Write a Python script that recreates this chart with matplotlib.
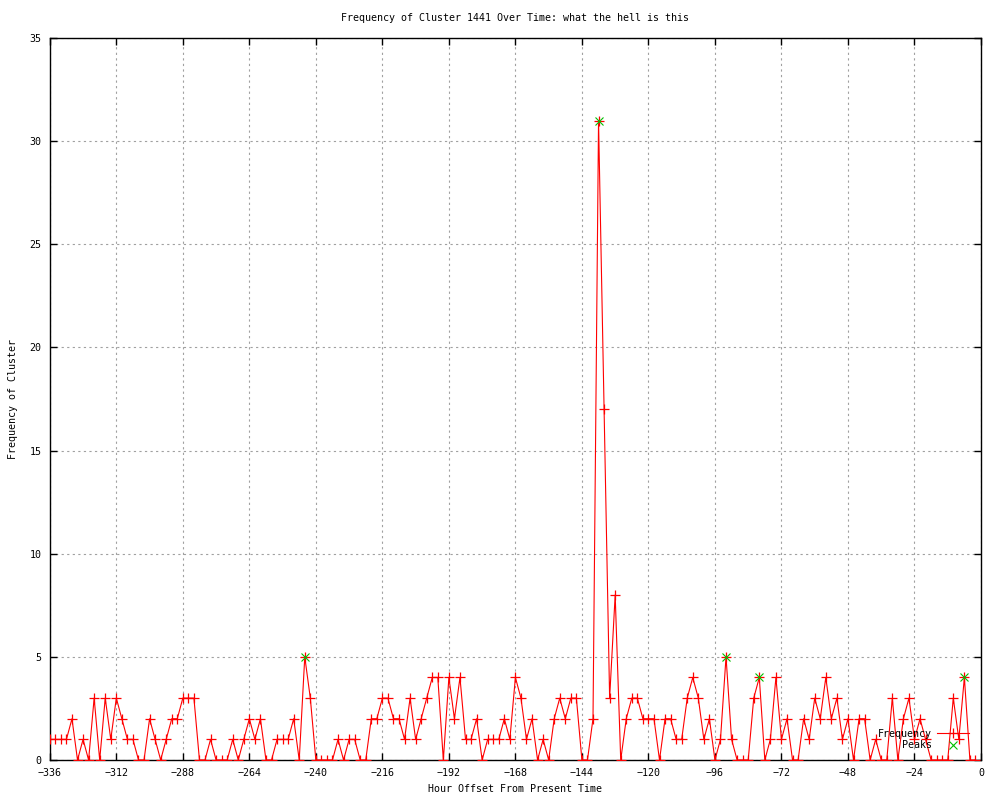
import matplotlib
matplotlib.use('Agg')
import matplotlib.pyplot as plt

# hour offsets, every 2 hours from -336 to -2
hours = list(range(-336, 0, 2))
freq = [1, 1, 1, 1, 2, 0, 1, 0, 3, 0, 3, 1, 3, 2, 1, 1, 0, 0, 2, 1,
        0, 1, 2, 2, 3, 3, 3, 0, 0, 1, 0, 0, 0, 1, 0, 1, 2, 1, 2, 0,
        0, 1, 1, 1, 2, 0, 5, 3, 0, 0, 0, 0, 1, 0, 1, 1, 0, 0, 2, 2,
        3, 3, 2, 2, 1, 3, 1, 2, 3, 4, 4, 0, 4, 2, 4, 1, 1, 2, 0, 1,
        1, 1, 2, 1, 4, 3, 1, 2, 0, 1, 0, 2, 3, 2, 3, 3, 0, 0, 2, 31,
        17, 3, 8, 0, 2, 3, 3, 2, 2, 2, 0, 2, 2, 1, 1, 3, 4, 3, 1, 2,
        0, 1, 5, 1, 0, 0, 0, 3, 4, 0, 1, 4, 1, 2, 0, 0, 2, 1, 3, 2,
        4, 2, 3, 1, 2, 0, 2, 2, 0, 1, 0, 0, 3, 0, 2, 3, 1, 2, 1, 0,
        0, 0, 0, 3, 1, 4, 0, 0]

peak_hours = [-244, -138, -92, -80, -6]
peak_vals = [5, 31, 5, 4, 4]

x_ticks = list(range(-336, 1, 24))
y_ticks = list(range(0, 36, 5))

plt.rcParams['font.family'] = 'DejaVu Sans Mono'
plt.rcParams['font.size'] = 7.2

fig = plt.figure(figsize=(10, 8), dpi=100)
ax = fig.add_axes([0.0498, 0.05, 0.9312, 0.9025])

ax.plot(hours, freq, color='red', linewidth=0.8, marker='+',
        markersize=7, markeredgewidth=0.9, label='Frequency', zorder=3)
ax.plot(peak_hours, peak_vals, linestyle='none', marker='x', color='#00c000',
        markersize=5.5, markeredgewidth=0.8, label='Peaks', zorder=4)

ax.set_xlim(-336, 0)
ax.set_ylim(0, 35)
ax.set_xticks(x_ticks)
ax.set_yticks(y_ticks)
ax.tick_params(direction='in', length=5, width=1, top=True, right=True, pad=6)
ax.grid(True, color='#a0a0a0', linestyle=(0, (2, 3)), linewidth=0.8)
for s in ax.spines.values():
    s.set_linewidth(1)

ax.set_title('Frequency of Cluster 1441 Over Time: what the hell is this',
             fontsize=7.2, pad=12)
ax.set_xlabel('Hour Offset From Present Time', labelpad=4)
ax.set_ylabel('Frequency of Cluster', labelpad=8)

ax.legend(loc='lower right', bbox_to_anchor=(0.991, 0.008), markerfirst=False,
          frameon=False, numpoints=1, handlelength=3.2, handletextpad=0.5,
          labelspacing=0.15, borderaxespad=0)

fig.savefig('out.png', dpi=100)
